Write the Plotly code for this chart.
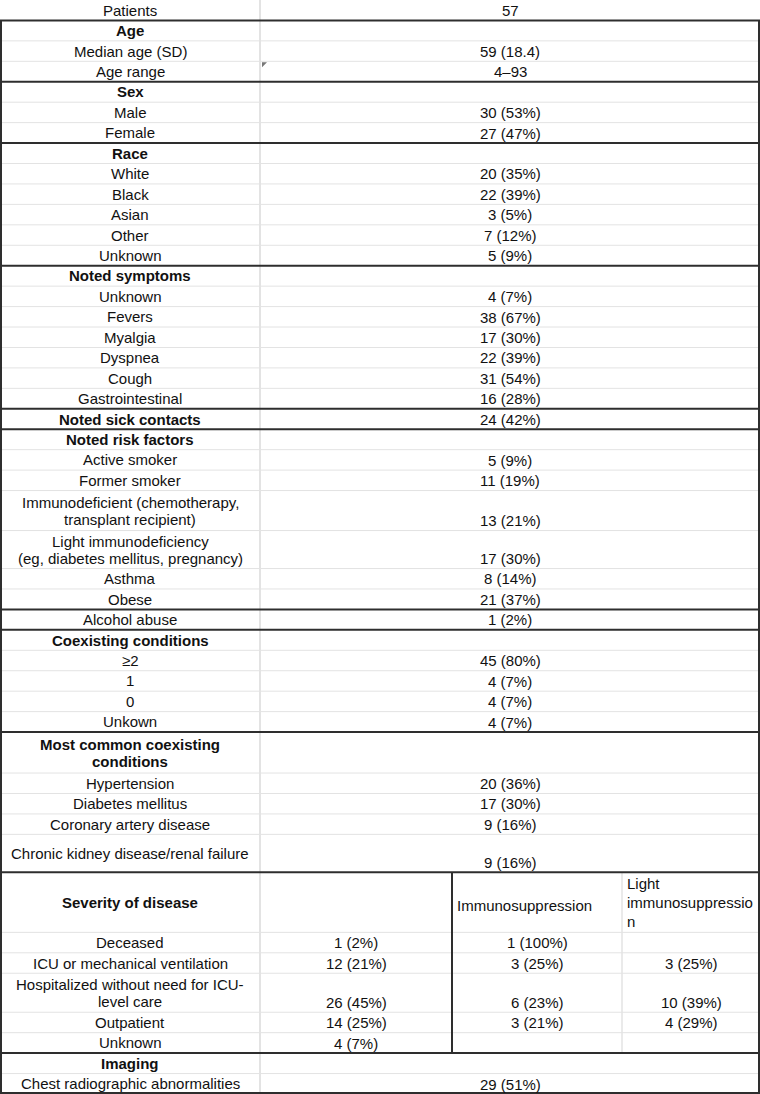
import plotly.graph_objects as go

# ---------------- data ----------------
labels = ["Patients", "Age", "Median age (SD)", "Age range", "Sex", "Male", "Female",
          "Race", "White", "Black", "Asian", "Other", "Unknown",
          "Noted symptoms", "Unknown", "Fevers", "Myalgia", "Dyspnea", "Cough", "Gastrointestinal",
          "Noted sick contacts", "Noted risk factors", "Active smoker", "Former smoker",
          "Immunodeficient (chemotherapy,\ntransplant recipient)",
          "Light immunodeficiency\n(eg, diabetes mellitus, pregnancy)",
          "Asthma", "Obese", "Alcohol abuse",
          "Coexisting conditions", "≥2", "1", "0", "Unkown",
          "Most common coexisting\nconditions", "Hypertension", "Diabetes mellitus",
          "Coronary artery disease", "Chronic kidney disease/renal failure"]
values = ["57", "", "59 (18.4)", "4–93", "", "30 (53%)", "27 (47%)",
          "", "20 (35%)", "22 (39%)", "3 (5%)", "7 (12%)", "5 (9%)",
          "", "4 (7%)", "38 (67%)", "17 (30%)", "22 (39%)", "31 (54%)", "16 (28%)",
          "24 (42%)", "", "5 (9%)", "11 (19%)", "13 (21%)", "17 (30%)",
          "8 (14%)", "21 (37%)", "1 (2%)",
          "", "45 (80%)", "4 (7%)", "4 (7%)", "4 (7%)",
          "", "20 (36%)", "17 (30%)", "9 (16%)", "9 (16%)"]
bold_labels = ["Age", "Sex", "Race", "Noted symptoms", "Noted sick contacts",
               "Noted risk factors", "Coexisting conditions",
               "Most common coexisting\nconditions", "Severity of disease", "Imaging"]

severity_title = "Severity of disease"
severity_headers = ["", "Immunosuppression", "Light\nimmunosuppressio\nn"]
severity_labels = ["Deceased", "ICU or mechanical ventilation",
                   "Hospitalized without need for ICU-\nlevel care", "Outpatient", "Unknown"]
severity_all = ["1 (2%)", "12 (21%)", "26 (45%)", "14 (25%)", "4 (7%)"]
severity_immuno = ["1 (100%)", "3 (25%)", "6 (23%)", "3 (21%)", ""]
severity_light = ["", "3 (25%)", "10 (39%)", "4 (29%)", ""]

imaging_labels = ["Imaging", "Chest radiographic abnormalities"]
imaging_values = ["", "29 (51%)"]

# rows that begin a new boxed section (thick rule above)
thick_before = ["Age", "Sex", "Race", "Noted symptoms", "Noted sick contacts",
                "Noted risk factors", "Alcohol abuse", "Coexisting conditions",
                "Most common coexisting\nconditions", "Severity of disease", "Imaging"]

# ---------------- layout config ----------------
W, H = 760, 1094
UNIT = 20.44
special_heights = {
    "Immunodeficient (chemotherapy,\ntransplant recipient)": 40,
    "Light immunodeficiency\n(eg, diabetes mellitus, pregnancy)": 38,
    "Most common coexisting\nconditions": 41,
    "Chronic kidney disease/renal failure": 38,
    "Severity of disease": 60,
    "Hospitalized without need for ICU-\nlevel care": 39,
}
COL = [0, 260, 452, 622, 760]
FONT = "Arial, 'Liberation Sans', sans-serif"
FS = 15
LINE_GAP = 17
GRID = "#e3e3e3"
DARK = "#2e2e2e"

# ---------------- assemble rows ----------------
rows = []  # (kind, label, [cells])
for lab, val in zip(labels, values):
    rows.append(("main", lab, [val]))
rows.append(("sevhead", severity_title, severity_headers))
for lab, a, b, c in zip(severity_labels, severity_all, severity_immuno, severity_light):
    rows.append(("sev", lab, [a, b, c]))
for lab, val in zip(imaging_labels, imaging_values):
    rows.append(("main", lab, [val]))

tops = []
y = 0.0
for kind, lab, cells in rows:
    tops.append(y)
    y += special_heights.get(lab, UNIT)
bottoms = tops[1:] + [y]
scale = H / y
tops = [t * scale for t in tops]
bottoms = [b * scale for b in bottoms]

fig = go.Figure()
shapes = []
annotations = []


def add_text(txt, x, yc, bold=False, xanchor="center", gap=LINE_GAP):
    if not txt:
        return
    parts = txt.split("\n")
    n = len(parts)
    for i, p in enumerate(parts):
        yy = yc + (i - (n - 1) / 2) * gap
        annotations.append(dict(
            x=x, y=yy, xref="x", yref="y", showarrow=False,
            text=f"<b>{p}</b>" if bold else p,
            xanchor=xanchor, yanchor="middle",
            font=dict(family=FONT, size=FS, color="#111111")))


# horizontal rules
for i, (kind, lab, cells) in enumerate(rows):
    t = tops[i]
    if i == 0:
        continue
    if lab in thick_before:
        shapes.append(dict(type="line", x0=0, x1=W, y0=t, y1=t,
                           line=dict(color=DARK, width=2), layer="above"))
    else:
        shapes.append(dict(type="line", x0=0, x1=W, y0=t, y1=t,
                           line=dict(color=GRID, width=1), layer="below"))

# vertical rules
shapes.append(dict(type="line", x0=COL[1], x1=COL[1], y0=0, y1=H,
                   line=dict(color=GRID, width=2), layer="below"))
sev_idx = [i for i, r in enumerate(rows) if r[0] in ("sevhead", "sev")]
sy0, sy1 = tops[sev_idx[0]], bottoms[sev_idx[-1]]
shapes.append(dict(type="line", x0=COL[2], x1=COL[2], y0=sy0, y1=sy1,
                   line=dict(color=DARK, width=2), layer="above"))
shapes.append(dict(type="line", x0=COL[3], x1=COL[3], y0=sy0, y1=sy1,
                   line=dict(color=GRID, width=1.5), layer="below"))
# outer border (below the first row)
b0 = bottoms[0]
for xx in (1, W - 1):
    shapes.append(dict(type="line", x0=xx, x1=xx, y0=b0, y1=H,
                       line=dict(color=DARK, width=2), layer="above"))
shapes.append(dict(type="line", x0=0, x1=W, y0=H - 1, y1=H - 1,
                   line=dict(color=DARK, width=2), layer="above"))

# comment marker in the "Age range" value cell
ar = labels.index("Age range")
cx, cy = COL[1] + 2, tops[ar] + 1
shapes.append(dict(type="path",
                   path=f"M {cx} {cy} L {cx + 5} {cy} L {cx} {cy + 5} Z",
                   fillcolor="#777777", line=dict(width=0), layer="above"))

# texts
for i, (kind, lab, cells) in enumerate(rows):
    t, b = tops[i], bottoms[i]
    mid = (t + b) / 2
    add_text(lab, (COL[0] + COL[1]) / 2, mid, bold=lab in bold_labels)
    if kind == "main":
        add_text(cells[0], (COL[1] + COL[4]) / 2, b - 10)
    elif kind == "sevhead":
        add_text(cells[1], COL[2] + 3, mid + 3, xanchor="left")
        add_text(cells[2], COL[3] + 3, mid, xanchor="left", gap=19)
    else:
        for j, c in enumerate(cells):
            add_text(c, (COL[j + 1] + COL[j + 2]) / 2, b - 10)

fig.add_trace(go.Scatter(x=[0, W], y=[0, H], mode="markers",
                         marker=dict(opacity=0), hoverinfo="skip", showlegend=False))

fig.update_layout(
    width=W, height=H,
    margin=dict(l=0, r=0, t=0, b=0),
    paper_bgcolor="white", plot_bgcolor="white",
    xaxis=dict(range=[0, W], visible=False, fixedrange=True),
    yaxis=dict(range=[H, 0], visible=False, fixedrange=True),
    shapes=shapes, annotations=annotations, showlegend=False,
)

fig.write_html("out.html", config={"displayModeBar": False},
               post_script="document.body.style.margin='0';document.body.style.overflow='hidden';")
